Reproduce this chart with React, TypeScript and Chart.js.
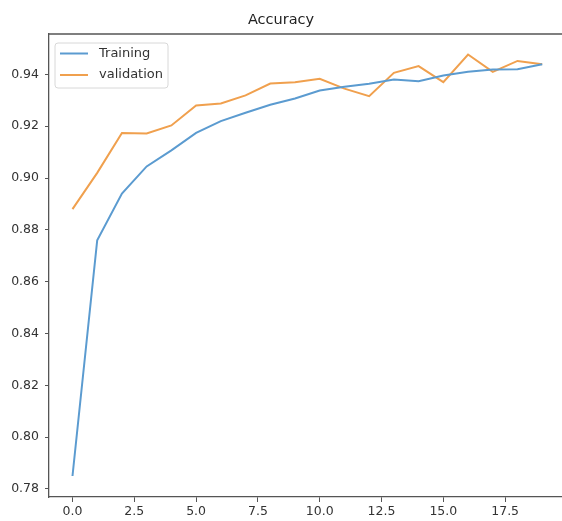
import React, { useEffect, useRef } from "react";
import { Chart, registerables } from "chart.js";

Chart.register(...registerables);

const epochs = [0, 1, 2, 3, 4, 5, 6, 7, 8, 9, 10, 11, 12, 13, 14, 15, 16, 17, 18, 19];
const training = [0.785, 0.876, 0.894, 0.9045, 0.9107, 0.9174, 0.922, 0.9252, 0.9283, 0.9307, 0.9338, 0.9352, 0.9364, 0.938, 0.9374, 0.9396, 0.941, 0.9419, 0.942, 0.9439];
const validation = [0.888, 0.902, 0.9174, 0.9172, 0.9203, 0.928, 0.9288, 0.9319, 0.9365, 0.937, 0.9383, 0.9345, 0.9316, 0.9406, 0.9432, 0.937, 0.9477, 0.941, 0.9452, 0.9439];
const xTicks = [0, 2.5, 5, 7.5, 10, 12.5, 15, 17.5];
const yTicks = [0.78, 0.8, 0.82, 0.84, 0.86, 0.88, 0.9, 0.92, 0.94];
const seriesLabels = ["Training", "validation"];
const seriesColors = ["#5b9bd0", "#f0a04e"];
const title = "Accuracy";

const FONT = "'DejaVu Sans', sans-serif";

const framePlugin = {
  id: "framePlugin",
  afterDatasetsDraw(chart: any) {
    const { ctx, chartArea } = chart;
    ctx.save();
    ctx.strokeStyle = "#555";
    ctx.lineWidth = 1.3;
    ctx.beginPath();
    ctx.moveTo(chartArea.left, chartArea.top);
    ctx.lineTo(chartArea.right, chartArea.top);
    ctx.stroke();
    ctx.restore();
  },
  afterDraw(chart: any) {
    const { ctx, chartArea } = chart;
    const bx = chartArea.left + 6;
    const by = chartArea.top + 9;
    const bw = 113;
    const bh = 45;
    ctx.save();
    ctx.fillStyle = "rgba(255,255,255,0.85)";
    ctx.strokeStyle = "#d8d8d8";
    ctx.lineWidth = 1;
    ctx.beginPath();
    const r = 3;
    ctx.moveTo(bx + r, by);
    ctx.lineTo(bx + bw - r, by);
    ctx.arcTo(bx + bw, by, bx + bw, by + r, r);
    ctx.lineTo(bx + bw, by + bh - r);
    ctx.arcTo(bx + bw, by + bh, bx + bw - r, by + bh, r);
    ctx.lineTo(bx + r, by + bh);
    ctx.arcTo(bx, by + bh, bx, by + bh - r, r);
    ctx.lineTo(bx, by + r);
    ctx.arcTo(bx, by, bx + r, by, r);
    ctx.closePath();
    ctx.fill();
    ctx.stroke();
    ctx.font = `13px ${FONT}`;
    ctx.textBaseline = "middle";
    ctx.fillStyle = "#333";
    chart.data.datasets.forEach((ds: any, i: number) => {
      const y = by + 10.5 + i * 21.5;
      ctx.strokeStyle = ds.borderColor;
      ctx.lineWidth = 2;
      ctx.beginPath();
      ctx.moveTo(bx + 5, y);
      ctx.lineTo(bx + 33, y);
      ctx.stroke();
      ctx.fillText(ds.label, bx + 44, y);
    });
    ctx.restore();
  },
};

export default function App() {
  const ref = useRef<HTMLCanvasElement>(null);
  useEffect(() => {
    document.body.style.margin = "0";
    const canvas = ref.current!;
    const chart = new Chart(canvas, {
      type: "line",
      data: {
        datasets: [training, validation].map((arr, i) => ({
          label: seriesLabels[i],
          data: epochs.map((e, j) => ({ x: e, y: arr[j] })),
          borderColor: seriesColors[i],
          backgroundColor: seriesColors[i],
          borderWidth: 2,
          pointRadius: 0,
          tension: 0,
          fill: false,
        })),
      },
      options: {
        animation: false,
        responsive: false,
        maintainAspectRatio: false,
        layout: { padding: { left: 0, right: 0, top: 0, bottom: 0 } },
        plugins: {
          legend: { display: false },
          tooltip: { enabled: false },
          title: {
            display: true,
            text: title,
            color: "#222",
            font: { family: FONT, size: 14.5, weight: "normal" },
            padding: { top: 12, bottom: 4.6 },
          },
        },
        scales: {
          x: {
            type: "linear",
            min: -0.95,
            max: 19.8,
            afterFit: (s: any) => { s.height = 24; },
            afterBuildTicks: (s: any) => { s.ticks = xTicks.map((v) => ({ value: v })); },
            ticks: {
              color: "#333",
              font: { family: FONT, size: 12.5 },
              padding: 2,
              maxRotation: 0,
              autoSkip: false,
              callback: (v: any) => Number(v).toFixed(1),
            },
            grid: { display: true, drawOnChartArea: false, drawTicks: true, tickLength: 5, tickColor: "#555", tickWidth: 1 },
            border: { display: true, color: "#555", width: 1.3 },
          },
          y: {
            type: "linear",
            min: 0.7769,
            max: 0.9556,
            afterFit: (s: any) => { s.width = 49; },
            afterBuildTicks: (s: any) => { s.ticks = yTicks.map((v) => ({ value: v })); },
            ticks: {
              color: "#333",
              font: { family: FONT, size: 12.5 },
              padding: 6,
              autoSkip: false,
              callback: (v: any) => Number(v).toFixed(2),
            },
            grid: { display: true, drawOnChartArea: false, drawTicks: true, tickLength: 4, tickColor: "#555", tickWidth: 1 },
            border: { display: true, color: "#555", width: 1.3 },
          },
        },
      },
      plugins: [framePlugin],
    });
    return () => chart.destroy();
  }, []);
  return (
    <div style={{ position: "fixed", left: 0, top: 0, width: 562, height: 521, background: "#fff" }}>
      <canvas ref={ref} width={562} height={521} style={{ display: "block" }} />
    </div>
  );
}
